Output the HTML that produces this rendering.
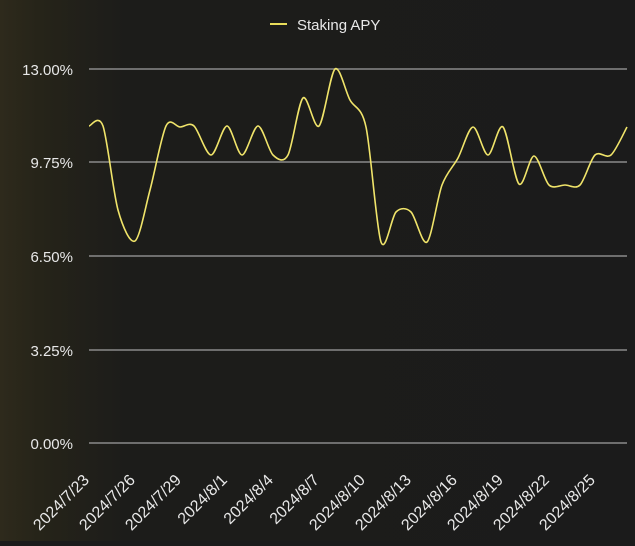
<!DOCTYPE html>
<html><head><meta charset="utf-8"><style>
html,body{margin:0;padding:0;}
body{width:635px;height:541px;overflow:hidden;background:#1b1b1b;font-family:"Liberation Sans",sans-serif;}
</style></head><body>
<svg width="635" height="541" xmlns="http://www.w3.org/2000/svg">
<defs>
<linearGradient id="lg" x1="0" x2="1"><stop offset="0" stop-color="#2e2a1c"/><stop offset="0.06" stop-color="#262419"/><stop offset="0.2" stop-color="#1c1c1a"/><stop offset="1" stop-color="#1b1b1b"/></linearGradient>
</defs>
<rect width="635" height="541" fill="url(#lg)"/>
<g stroke="#8a8a8a" stroke-width="1.5">
<line x1="89" x2="627" y1="69" y2="69"/>
<line x1="89" x2="627" y1="162" y2="162"/>
<line x1="89" x2="627" y1="256" y2="256"/>
<line x1="89" x2="627" y1="350" y2="350"/>
<line x1="89" x2="627" y1="443" y2="443"/>
</g>
<g fill="#e8e8e8" font-size="15" text-anchor="end">
<text x="73" y="75">13.00%</text>
<text x="73" y="168">9.75%</text>
<text x="73" y="262">6.50%</text>
<text x="73" y="356">3.25%</text>
<text x="73" y="449">0.00%</text>
</g>
<line x1="270" x2="287" y1="24" y2="24" stroke="#e8dc5a" stroke-width="2"/>
<text x="297" y="30" fill="#e8e8e8" font-size="15">Staking APY</text>
<g id="xl" fill="#e8e8e8" font-size="16" text-anchor="end"></g>
<path id="ln" fill="none" stroke="#f0e46a" stroke-width="1.6"/>
</svg>
<script>
var labels=["2024/7/23","2024/7/26","2024/7/29","2024/8/1","2024/8/4","2024/8/7","2024/8/10","2024/8/13","2024/8/16","2024/8/19","2024/8/22","2024/8/25"];
var g=document.getElementById('xl'),s="";
labels.forEach(function(l,i){var x=90+46*i,y=481;s+='<text transform="translate('+x+','+y+') rotate(-45)">'+l+'</text>';});
g.innerHTML=s;
var p=[[89,126],[103,126],[118,210],[135,241],[150,190],[166,126],[180,127],[194,126],[211,155],[227,126],[242,155],[258,126],[273,155],[288,155],[303,98],[319,126],[335,69],[350,100],[366,127],[381,242],[396,212],[411,212],[427,242],[442,185],[458,158],[473,127],[488,155],[503,127],[519,184],[534,156],[549,185],[565,185],[580,185],[595,155],[611,155],[627,127]];
var d="M"+p[0][0]+","+p[0][1];
for(var i=0;i<p.length-1;i++){var a=p[i-1]||p[i],b=p[i],c=p[i+1],e=p[i+2]||c,t=0.15;
var c1x=b[0]+(c[0]-a[0])*t,c1y=b[1]+(c[1]-a[1])*t,c2x=c[0]-(e[0]-b[0])*t,c2y=c[1]-(e[1]-b[1])*t;
d+=" C"+c1x+","+c1y+" "+c2x+","+c2y+" "+c[0]+","+c[1];}
document.getElementById('ln').setAttribute('d',d);
</script>
</body></html>
